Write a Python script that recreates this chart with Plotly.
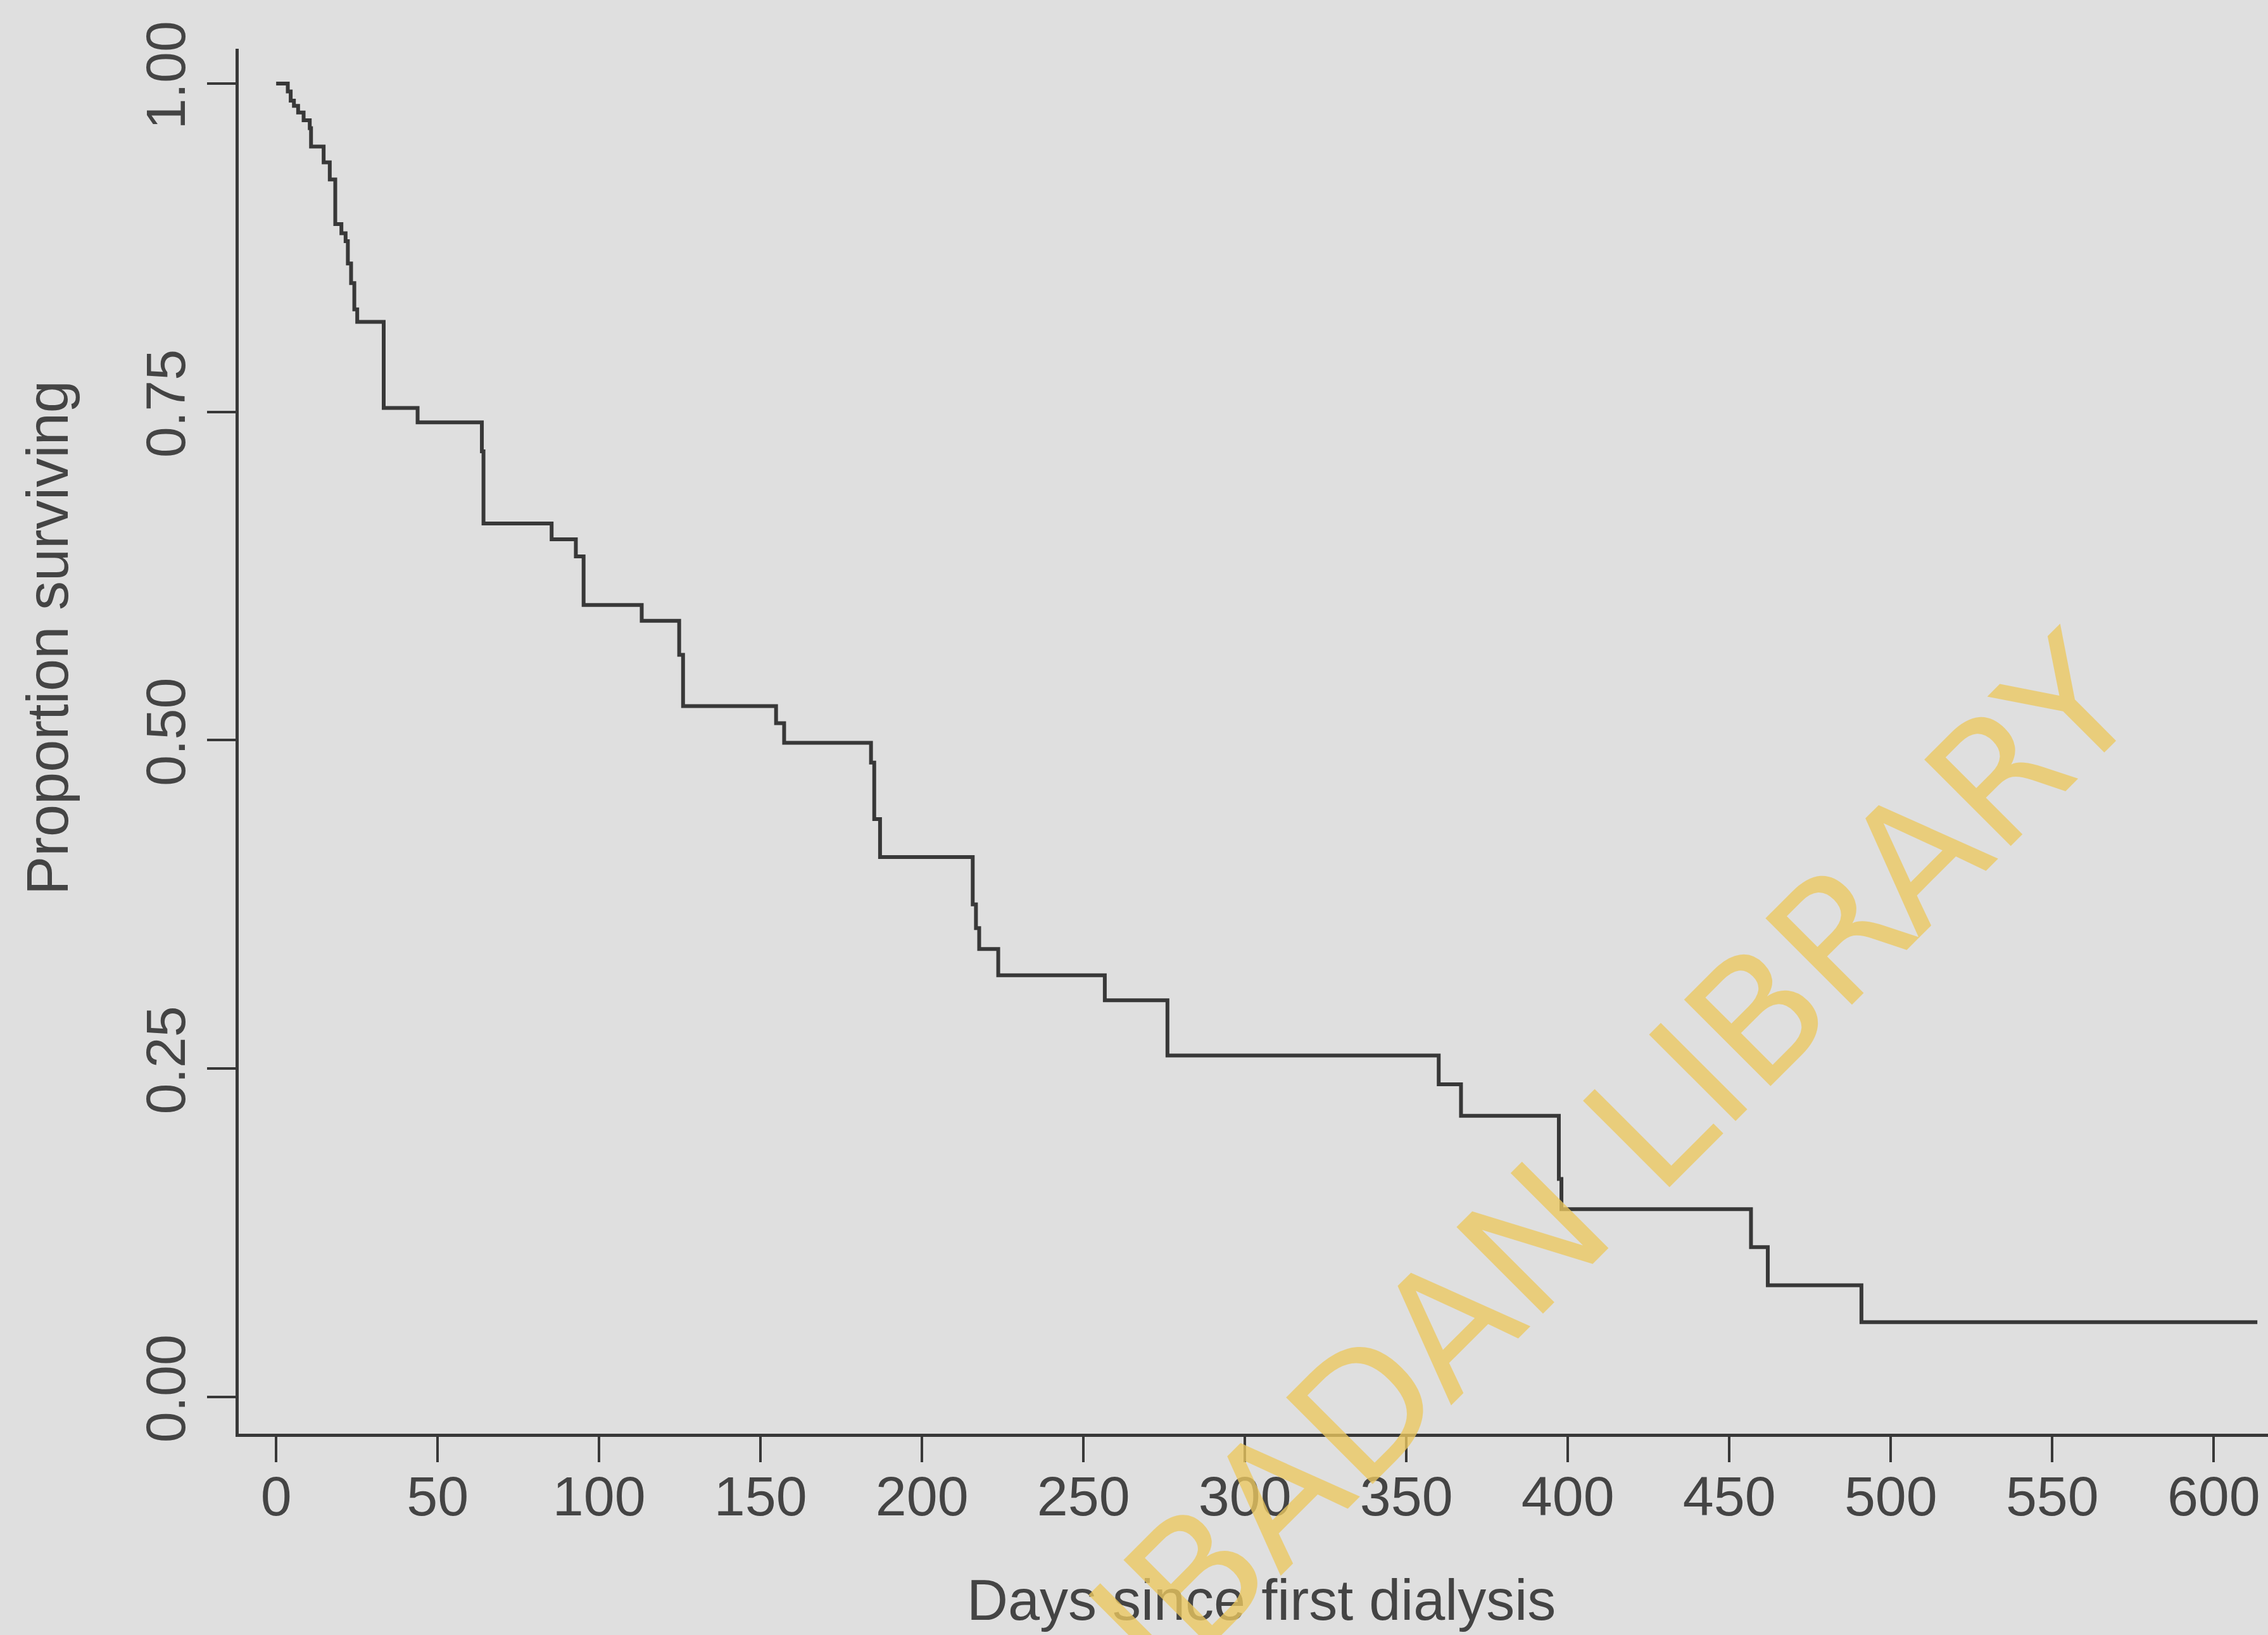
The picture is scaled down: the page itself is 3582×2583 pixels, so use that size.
import plotly.graph_objects as go

# Kaplan-Meier estimate: event day and survival after it
event_days = [3.6, 4.5, 5.5, 6.8, 8.5, 10.4, 10.8, 14.7, 16.6, 18.3, 20.2, 21.5,
              22.2, 23.2, 24.2, 25.1, 33.3, 43.8, 63.7, 64.2, 85.3, 92.8, 95.2,
              113.2, 124.8, 126.0, 154.8, 157.3, 184.2, 185.2, 187.0, 215.7,
              216.7, 217.7, 223.6, 256.6, 276.0, 360.0, 366.9, 397.2, 398.0,
              456.7, 461.9, 490.9]
survival = [0.994, 0.987, 0.983, 0.978, 0.972, 0.966, 0.952, 0.940, 0.927, 0.893,
            0.886, 0.880, 0.863, 0.848, 0.828, 0.8185, 0.753, 0.742, 0.720, 0.665,
            0.653, 0.640, 0.603, 0.591, 0.565, 0.526, 0.513, 0.498, 0.483, 0.440,
            0.411, 0.375, 0.357, 0.341, 0.321, 0.302, 0.260, 0.238, 0.214, 0.166,
            0.143, 0.114, 0.085, 0.057]
start_day, start_surv = 0, 1.0
last_day = 613.5

x_ticks = [0, 50, 100, 150, 200, 250, 300, 350, 400, 450, 500, 550, 600]
y_ticks = [0, 0.25, 0.5, 0.75, 1.0]
y_tick_text = ["0.00", "0.25", "0.50", "0.75", "1.00"]

xs = [start_day] + event_days + [last_day]
ys = [start_surv] + survival + [survival[-1]]

BG = "#dfdfdf"
INK = "#383838"
TXT = "#444444"
FONT = "Liberation Sans, Arial, sans-serif"

fig = go.Figure()
fig.add_trace(go.Scatter(x=xs, y=ys, mode="lines", line=dict(shape="hv", color=INK, width=6),
                         showlegend=False, hoverinfo="skip"))

fig.update_layout(
    width=3582, height=2583,
    margin=dict(l=377, r=0, t=77, b=318),
    paper_bgcolor=BG, plot_bgcolor=BG,
    font=dict(family=FONT, color=TXT),
    xaxis=dict(range=[-11.6, 616.8], tickvals=x_ticks, ticks="outside", ticklen=40,
               tickwidth=4, tickcolor=INK, showline=True, linewidth=5, linecolor=INK,
               showgrid=False, zeroline=False, ticklabelstandoff=-22,
               tickfont=dict(size=88, color=TXT, family=FONT)),
    yaxis=dict(range=[-0.028, 1.0265], tickvals=y_ticks, ticktext=y_tick_text, tickangle=-90,
               ticks="outside", ticklen=45, tickwidth=4, tickcolor=INK, showline=True,
               linewidth=5, linecolor=INK, showgrid=False, zeroline=False,
               tickfont=dict(size=88, color=TXT, family=FONT)),
    annotations=[
        dict(text="Days since first dialysis", xref="paper", yref="paper", x=0.504, y=-0.12,
             xanchor="center", yanchor="middle", showarrow=False,
             font=dict(size=90, color=TXT, family=FONT)),
        dict(text="Proportion surviving", xref="paper", yref="paper", x=-0.0942, y=0.5745,
             xanchor="center", yanchor="middle", textangle=-90, showarrow=False,
             font=dict(size=92, color=TXT, family=FONT)),
        dict(text="IBADAN LIBRARY", xref="paper", yref="paper", x=0.678, y=0.198,
             xanchor="center", yanchor="middle", textangle=-45, showarrow=False,
             font=dict(size=265, color="rgba(236,200,95,0.78)", family="DejaVu Sans, sans-serif")),
    ],
)

fig.write_html("out.html", config={"displayModeBar": False},
               post_script="document.body.style.margin='0';document.body.style.background='#dfdfdf';")
